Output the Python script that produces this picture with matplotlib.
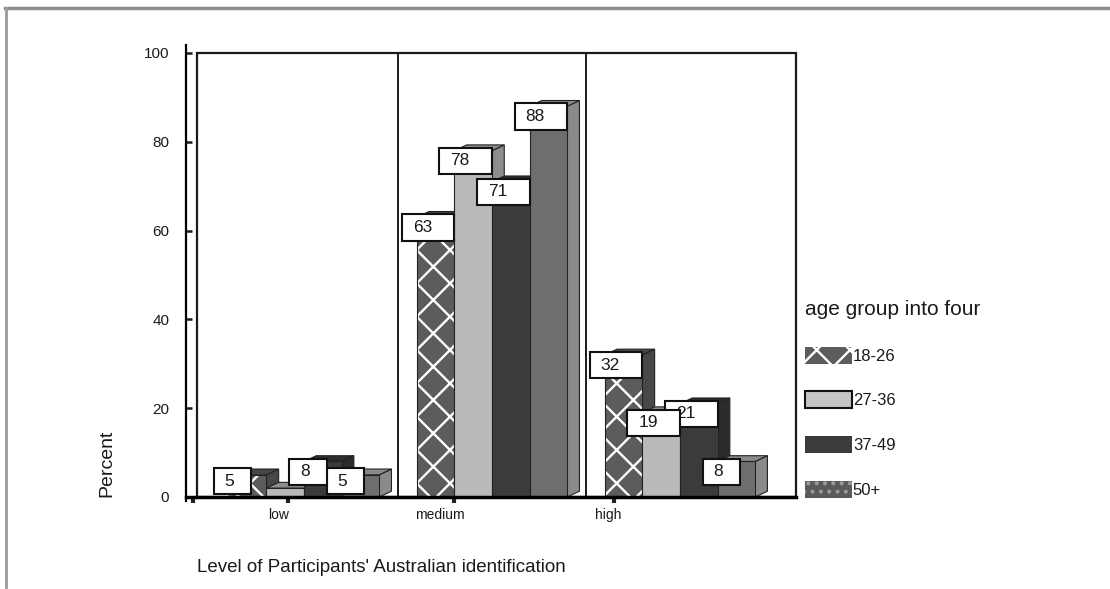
import numpy as np
import matplotlib.pyplot as plt
from matplotlib.patches import Rectangle, Polygon, Patch
from matplotlib.lines import Line2D

plt.rcParams['font.family'] = ['Liberation Sans', 'DejaVu Sans']
plt.rcParams['hatch.linewidth'] = 1.7

# percent of each age group at each identification level
levels = ['low', 'medium', 'high']
age_groups = ['18-26', '27-36', '37-49', '50+']
pct_18_26 = [5, 63, 32]
pct_27_36 = [2, 78, 19]
pct_37_49 = [8, 71, 21]
pct_50_up = [5, 88, 8]
series = [pct_18_26, pct_27_36, pct_37_49, pct_50_up]

# front colour, side colour, hatch, hatch colour
styles = [
    ('#5c5c5c', '#474747', 'x', 'white'),
    ('#bababa', '#8e8e8e', '', '#bababa'),
    ('#3b3b3b', '#2c2c2c', '', '#3b3b3b'),
    ('#6e6e6e', '#8a8a8a', '', '#6e6e6e'),
]

W, H = 1110, 589
fig = plt.figure(figsize=(W / 100, H / 100), dpi=100)
ax = fig.add_axes([186 / W, 92 / H, 610 / W, 444 / H])

x = np.arange(len(levels))
bw = 0.2
dx, dy = 0.065, 1.3          # depth of the 3d bars
xmin, xmax = -0.628, 2.617
ax.set_xlim(xmin, xmax)
ax.set_ylim(0, 100)

# back wall and dividers between the levels
ax.add_patch(Rectangle((-0.569, 0), xmax + 0.569, 100, fill=False,
                       lw=1.6, ec='#1a1a1a', zorder=1, clip_on=False))
ax.vlines([0.5, 1.5], 0, 100, color='#1a1a1a', lw=1.4, zorder=1)

for i, vals in enumerate(series):
    front, side, hatch, hcol = styles[i]
    xs = x + (i - 1.5) * bw
    z = 2 + i * 0.1
    for xc, v in zip(xs, vals):
        x0, x1 = xc - bw / 2, xc + bw / 2
        ax.add_patch(Polygon([(x1, 0), (x1 + dx, dy), (x1 + dx, v + dy), (x1, v)],
                             closed=True, fc=side, ec='#222222', lw=0.8, zorder=z))
        ax.add_patch(Polygon([(x0, v), (x0 + dx, v + dy), (x1 + dx, v + dy), (x1, v)],
                             closed=True, fc=side, ec='#222222', lw=0.8, zorder=z))
    ax.bar(xs, vals, width=bw, color=front, hatch=hatch, edgecolor=hcol,
           linewidth=0, zorder=z + 0.05)
    ax.bar(xs, vals, width=bw, fill=False, edgecolor='#222222',
           linewidth=0.8, zorder=z + 0.06)

# value boxes; earlier groups sit on top
box_h = 5.9
for i in reversed(range(len(series))):
    xs = x + (i - 1.5) * bw
    for xc, v in zip(xs, series[i]):
        if v < 3:
            continue  # too short to carry a box
        txt = str(v)
        bwid = 0.2 if len(txt) == 1 else 0.28
        left = xc + bw / 2 - 0.28
        yc = max(v - 2.3, box_h / 2 + 0.6)
        ax.add_patch(Rectangle((left, yc - box_h / 2), bwid, box_h, fc='white',
                               ec='#111111', lw=1.5, zorder=10 - i))
        ax.text(left + 0.058, yc, txt, fontsize=12.5, ha='left', va='center',
                color='#1a1a1a', zorder=10.5 - i)

# axes
for s in ['top', 'right']:
    ax.spines[s].set_visible(False)
ax.spines['left'].set_linewidth(1.6)
ax.spines['left'].set_bounds(-0.8, 101.8)
ax.spines['bottom'].set_linewidth(2.5)
ax.set_yticks(np.arange(0, 101, 20))
ax.tick_params(axis='y', direction='in', length=4, width=1.8, labelsize=11,
               pad=12, colors='#1a1a1a')
ax.set_xticks([-0.133, 0.723, 1.617])
ax.set_xticklabels(levels)
ax.set_xticks([-0.59, -0.085, 0.80, 1.65], minor=True)
ax.tick_params(axis='x', which='major', length=0, labelsize=10, pad=8,
               colors='#1a1a1a')
ax.tick_params(axis='x', which='minor', direction='out', length=4, width=3,
               color='#222222')

fig.text(197 / W, 1 - 568 / H, "Level of Participants' Australian identification",
         fontsize=13.5, ha='left', va='center', color='#1a1a1a')
fig.text(107 / W, 1 - 463 / H, 'Percent', fontsize=14, rotation=90,
         ha='center', va='center', color='#1a1a1a')

handles = [
    Patch(fc=styles[0][0], ec='white', hatch='x', lw=0),
    Patch(fc='#c4c4c4', ec='#111111', lw=1.5),
    Patch(fc=styles[2][0], ec=styles[2][0], lw=0),
    Patch(fc='#5a5a5a', ec='#9a9a9a', hatch='..', lw=0),
]
leg = fig.legend(handles, age_groups, loc='upper left',
                 bbox_to_anchor=(805 / W, 1 - 300 / H), frameon=False,
                 title='age group into four', title_fontsize=15, fontsize=12,
                 handlelength=2.82, handleheight=1.2, labelspacing=1.65,
                 handletextpad=0.05, borderpad=0, borderaxespad=0,
                 alignment='left')
for t in leg.get_texts() + [leg.get_title()]:
    t.set_color('#1a1a1a')

# page border
fig.add_artist(Line2D([5 / W, 1], [1 - 8 / H] * 2, color='#8c8c8c', lw=2.5,
                      transform=fig.transFigure))
fig.add_artist(Line2D([6 / W] * 2, [2 / H, 1 - 8 / H], color='#9a9a9a', lw=2,
                      transform=fig.transFigure))

fig.savefig('out.png', dpi=100)
